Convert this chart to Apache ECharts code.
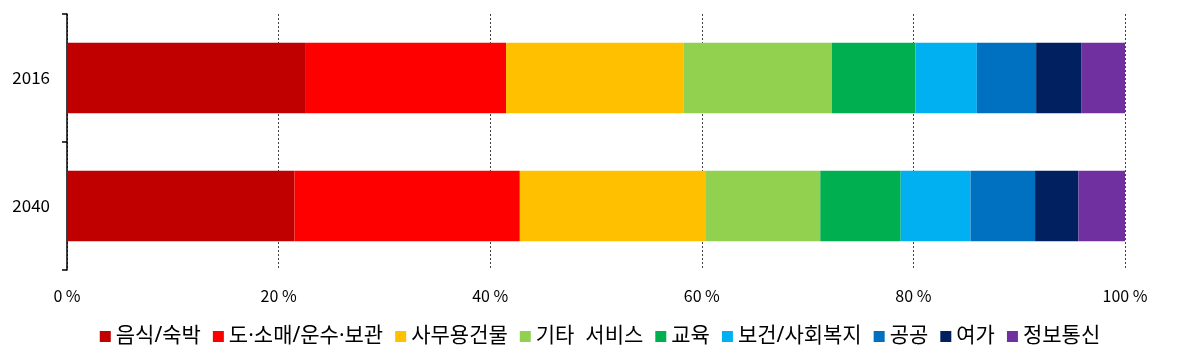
<!DOCTYPE html>
<html><head><meta charset="utf-8">
<script src="https://cdn.jsdelivr.net/npm/echarts@6/dist/echarts.min.js"></script>
<style>html,body{margin:0;padding:0;background:#fff}#c{width:1200px;height:360px}</style>
</head><body><div id="c"></div>
<script>
const categories = ['2016', '2040'];
const seriesNames = ['음식/숙박', '도·소매/운수·보관', '사무용건물', '기타  서비스', '교육', '보건/사회복지', '공공', '여가', '정보통신'];
const colors = ['#C00000', '#FF0000', '#FFC000', '#92D050', '#00B050', '#00B0F0', '#0070C0', '#002060', '#7030A0'];
const v_food = [22.5, 21.5];
const v_retail = [19.0, 21.3];
const v_office = [16.8, 17.6];
const v_otherSvc = [14.0, 10.8];
const v_edu = [7.9, 7.6];
const v_health = [5.8, 6.6];
const v_public = [5.6, 6.1];
const v_leisure = [4.3, 4.1];
const v_ict = [4.1, 4.4];
const xTicks = [0, 20, 40, 60, 80, 100];
const allValues = [v_food, v_retail, v_office, v_otherSvc, v_edu, v_health, v_public, v_leisure, v_ict];
const font = '"Noto Sans CJK KR", "Noto Sans", sans-serif';
const legendFont = '"Noto Sans", "Noto Sans CJK KR", sans-serif';

const chart = echarts.init(document.getElementById('c'));
chart.setOption({
  animation: false,
  textStyle: { fontFamily: font },
  grid: { left: 67, right: 75, top: 14, bottom: 90 },
  legend: {
    data: seriesNames,
    bottom: 8,
    left: 'center',
    itemWidth: 11, itemHeight: 11, itemGap: 12,
    icon: 'rect',
    textStyle: { fontSize: 21, color: '#000', fontFamily: legendFont }
  },
  xAxis: {
    type: 'value', min: xTicks[0], max: xTicks[xTicks.length - 1], interval: 20,
    axisLine: { show: false }, axisTick: { show: false },
    axisLabel: { formatter: '{value} %', fontSize: 16, color: '#000', margin: 18 },
    splitLine: { show: true, lineStyle: { type: [2, 2], color: '#404040', width: 1 } }
  },
  yAxis: {
    type: 'category', data: categories, inverse: true,
    axisLine: { show: true, lineStyle: { color: '#000', width: 1.5 } },
    axisTick: { show: true, length: 5, lineStyle: { color: '#000', width: 1.5 } },
    axisLabel: { fontSize: 17, color: '#000', margin: 17 }
  },
  series: seriesNames.map((n, i) => ({
    name: n, type: 'bar', stack: 'total', barWidth: '55%',
    data: allValues[i],
    itemStyle: { color: colors[i] }
  }))
});
</script></body></html>
